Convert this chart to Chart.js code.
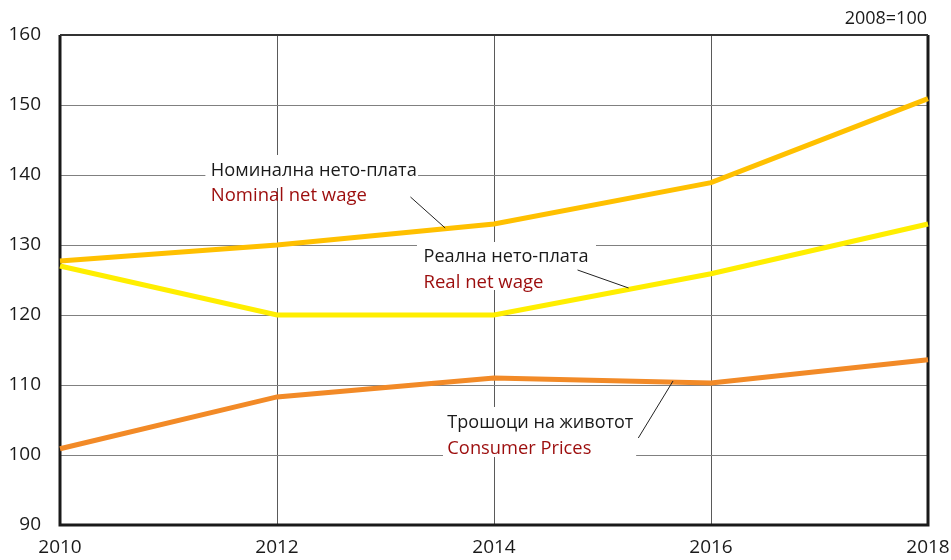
<!DOCTYPE html>
<html>
<head>
<meta charset="utf-8">
<script src="https://cdn.jsdelivr.net/npm/chart.js@4"></script>
<style>
  html, body { margin: 0; padding: 0; background: #fff; }
  #wrap { width: 951px; height: 560px; }
</style>
</head>
<body>
<div id="wrap"><canvas id="chart" width="951" height="560"></canvas></div>
<script>
// values (2008 = 100)
const years = [2010, 2012, 2014, 2016, 2018];
const nominalWage = [127.7, 130.0, 133.0, 138.9, 150.9];
const realWage = [127.0, 120.0, 120.0, 125.9, 133.0];
const consumerPrices = [100.9, 108.3, 111.0, 110.3, 113.6];
const yTicks = [90, 100, 110, 120, 130, 140, 150, 160];
const baseNote = "2008=100";

const seriesNames = [
  ["Номинална нето-плата", "Nominal net wage"],
  ["Реална нето-плата", "Real net wage"],
  ["Трошоци на животот", "Consumer Prices"],
];

// label placement in data units (x = year, y = index)
const callouts = [
  { names: seriesNames[0], x: 2011.39, y1: 140.7, y2: 137.1, w1: 206, w2: 156,
    box: [2011.34, 2013.30, 142.86, 138.14], leader: [2013.23, 136.86, 2013.55, 132.43] },
  { names: seriesNames[1], x: 2013.35, y1: 128.4, y2: 124.7, w1: 165, w2: 120,
    box: [2013.29, 2014.94, 130.43, 123.57], leader: [2014.77, 126.43, 2015.24, 123.86] },
  { names: seriesNames[2], x: 2013.57, y1: 104.6, y2: 100.9, w1: 186, w2: 144,
    box: [2013.53, 2015.31, 106.86, 99.71], leader: [2015.33, 102.43, 2015.65, 110.57] },
];

const FONT = "'Open Sans', 'DejaVu Sans', sans-serif";

const toPoints = (vals) => years.map((yr, i) => ({ x: yr, y: vals[i] }));

const calloutPlugin = {
  id: "callouts",
  beforeDatasetsDraw(chart) {
    const { ctx, chartArea, scales } = chart;
    const xs = scales.x, ys = scales.y;
    ctx.save();
    ctx.fillStyle = "#ffffff";
    callouts.forEach((c) => {
      const x0 = xs.getPixelForValue(c.box[0]);
      const x1 = xs.getPixelForValue(c.box[1]);
      const y0 = ys.getPixelForValue(c.box[2]);
      const y1 = ys.getPixelForValue(c.box[3]);
      ctx.fillRect(x0, y0, x1 - x0, y1 - y0);
    });
    // frame
    ctx.strokeStyle = "#1a1a1a";
    ctx.lineWidth = 3;
    ctx.beginPath();
    ctx.moveTo(chartArea.left, chartArea.top);
    ctx.lineTo(chartArea.left, chartArea.bottom);
    ctx.lineTo(chartArea.right, chartArea.bottom);
    ctx.lineTo(chartArea.right, chartArea.top);
    ctx.stroke();
    ctx.strokeStyle = "#333333";
    ctx.lineWidth = 2;
    ctx.beginPath();
    ctx.moveTo(chartArea.left, chartArea.top);
    ctx.lineTo(chartArea.right, chartArea.top);
    ctx.stroke();
    ctx.restore();
  },
  afterDatasetsDraw(chart) {
    const { ctx, chartArea, scales } = chart;
    const xs = scales.x, ys = scales.y;
    ctx.save();
    ctx.textBaseline = "middle";
    ctx.textAlign = "left";
    ctx.font = "19px " + FONT;
    callouts.forEach((c) => {
      const x = xs.getPixelForValue(c.x);
      ctx.fillStyle = "#1a1a1a";
      ctx.fillText(c.names[0], x, ys.getPixelForValue(c.y1), c.w1);
      ctx.fillStyle = "#9c0d0d";
      ctx.fillText(c.names[1], x, ys.getPixelForValue(c.y2), c.w2);
      ctx.strokeStyle = "#222222";
      ctx.lineWidth = 1;
      ctx.beginPath();
      ctx.moveTo(xs.getPixelForValue(c.leader[0]), ys.getPixelForValue(c.leader[1]));
      ctx.lineTo(xs.getPixelForValue(c.leader[2]), ys.getPixelForValue(c.leader[3]));
      ctx.stroke();
    });
    ctx.font = "18px " + FONT;
    ctx.textAlign = "right";
    ctx.textBaseline = "alphabetic";
    ctx.fillStyle = "#1a1a1a";
    ctx.fillText(baseNote, chartArea.right - 1, chartArea.top - 11);
    ctx.restore();
  },
};

new Chart(document.getElementById("chart"), {
  type: "line",
  data: {
    datasets: [
      { label: seriesNames[0][1], data: toPoints(nominalWage), borderColor: "#ffc000" },
      { label: seriesNames[1][1], data: toPoints(realWage), borderColor: "#ffee00" },
      { label: seriesNames[2][1], data: toPoints(consumerPrices), borderColor: "#f28a27" },
    ],
  },
  options: {
    responsive: false,
    animation: false,
    layout: { padding: { top: 35, right: 23, bottom: 0, left: 0 } },
    elements: {
      line: { borderWidth: 5, tension: 0 },
      point: { radius: 0 },
    },
    datasets: { line: { clip: false } },
    plugins: { legend: { display: false }, tooltip: { enabled: false } },
    scales: {
      x: {
        type: "linear",
        min: years[0],
        max: years[years.length - 1],
        afterBuildTicks: (scale) => { scale.ticks = years.map((v) => ({ value: v })); },
        afterFit: (scale) => { scale.height = 35; scale.paddingLeft = 0; scale.paddingRight = 0; },
        grid: { color: "#5a5a5a", lineWidth: 1, drawTicks: false },
        border: { display: false },
        ticks: {
          color: "#1a1a1a",
          font: { family: FONT, size: 19 },
          padding: 11,
          maxRotation: 0,
          callback: (v) => String(v),
        },
      },
      y: {
        min: yTicks[0],
        max: yTicks[yTicks.length - 1],
        afterBuildTicks: (scale) => { scale.ticks = yTicks.map((v) => ({ value: v })); },
        afterFit: (scale) => { scale.width = 60; scale.paddingTop = 0; scale.paddingBottom = 0; },
        grid: { color: "#808080", lineWidth: 1, drawTicks: false },
        border: { display: false },
        ticks: {
          color: "#1a1a1a",
          font: { family: FONT, size: 19 },
          padding: 19,
        },
      },
    },
  },
  plugins: [calloutPlugin],
});
</script>
</body>
</html>
